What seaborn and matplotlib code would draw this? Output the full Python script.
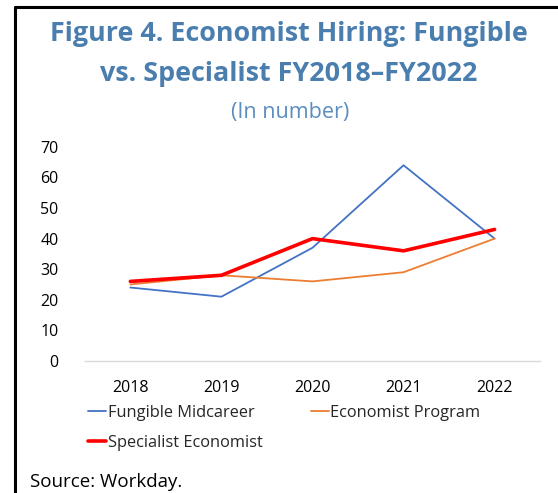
import pandas as pd
import matplotlib.pyplot as plt
import seaborn as sns
from matplotlib.lines import Line2D

# Data
years = ["2018", "2019", "2020", "2021", "2022"]
fungible_midcareer = [24, 21, 37, 64, 40]
economist_program = [25, 28, 26, 29, 40]
specialist_economist = [26, 28, 40, 36, 43]

series_names = ["Fungible Midcareer", "Economist Program", "Specialist Economist"]
series_colors = ["#4472C4", "#ED7D31", "#FF0000"]
series_widths = [1.3, 1.3, 2.6]

df = pd.DataFrame({
    "Year": years * 3,
    "Value": fungible_midcareer + economist_program + specialist_economist,
    "Series": [s for s in series_names for _ in years],
})

sns.set_theme(style="white")
plt.rcParams["font.family"] = ["Open Sans", "DejaVu Sans"]

fig = plt.figure(figsize=(5.58, 4.93), dpi=100)
ax = fig.add_axes([0.152, 0.268, 0.816, 0.434])

for name, color, lw in zip(series_names, series_colors, series_widths):
    sub = df[df["Series"] == name]
    sns.lineplot(data=sub, x="Year", y="Value", ax=ax, color=color,
                 linewidth=lw, label=name, sort=False)

ax.set_ylim(0, 70)
ax.set_yticks(range(0, 71, 10))
ax.set_xlim(-0.5, len(years) - 0.5)
ax.set_xlabel("")
ax.set_ylabel("")
for side in ["top", "right", "left"]:
    ax.spines[side].set_visible(False)
ax.spines["bottom"].set_color("#D9D9D9")
ax.spines["bottom"].set_linewidth(1.0)
ax.tick_params(axis="both", length=0, labelsize=11.5, colors="#000000")
ax.tick_params(axis="y", pad=19)
ax.tick_params(axis="x", pad=14)

# matplotlib fills legend columns first, so order gives rows F/EP then SE
order = [0, 2, 1]
handles = [Line2D([0], [0], color=series_colors[i], linewidth=series_widths[i]) for i in order]
labels = [series_names[i] for i in order]
ax.legend(handles, labels, loc="upper left", bbox_to_anchor=(0.008, -0.205),
          ncol=2, frameon=False, fontsize=11.8, handlelength=1.1, handletextpad=0.1,
          columnspacing=2.9, labelspacing=0.85, borderaxespad=0, borderpad=0)

title_color = "#4A7EAF"
fig.text(0.517, 0.932, "Figure 4. Economist Hiring: Fungible", ha="center", va="center",
         fontsize=19.4, fontweight="bold", color=title_color)
fig.text(0.517, 0.850, "vs. Specialist FY2018\u2013FY2022", ha="center", va="center",
         fontsize=19.4, fontweight="bold", color=title_color)
fig.text(0.52, 0.771, "(In number)", ha="center", va="center",
         fontsize=15.5, color="#5B8DBF")
fig.text(0.053, 0.004, "Source: Workday.", ha="left", va="bottom",
         fontsize=13.5, color="#000000")

# frame lines of the original figure box (left and top)
fig.add_artist(Line2D([0.027, 0.027], [0, 0.986], transform=fig.transFigure,
                      color="black", linewidth=2.2))
fig.add_artist(Line2D([0.026, 1.0], [0.986, 0.986], transform=fig.transFigure,
                      color="black", linewidth=2.2))

fig.savefig("out.png", dpi=100)
